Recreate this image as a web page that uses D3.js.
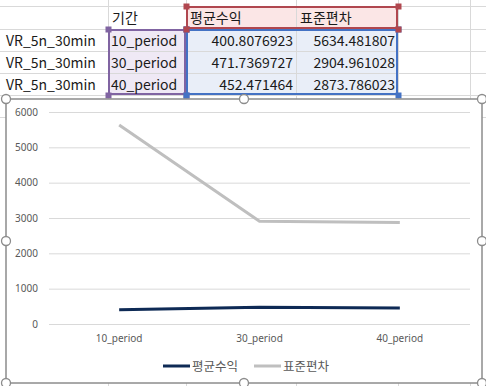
<!DOCTYPE html>
<html>
<head>
<meta charset="utf-8">
<script src="https://cdn.jsdelivr.net/npm/d3@7"></script>
<style>
  html, body { margin: 0; padding: 0; background: #fff; }
  svg { display: block; }
  .cell { font-family: "Noto Sans CJK KR", "Noto Sans", sans-serif; font-size: 14px; fill: #1a1a1a; }
  .tick text { font-family: "Noto Sans", "DejaVu Sans", sans-serif; font-size: 10px; fill: #595959; }
  .legend text { font-family: "Noto Sans CJK KR", sans-serif; font-size: 12.5px; fill: #595959; }
</style>
</head>
<body>
<div id="chart"></div>
<script>
var categories = ["10_period", "30_period", "40_period"];
var rowLabels = ["VR_5n_30min", "VR_5n_30min", "VR_5n_30min"];
var seriesNames = ["평균수익", "표준편차"];
var meanValues = [400.8076923, 471.7369727, 452.471464];
var stdValues = [5634.481807, 2904.961028, 2873.786023];
var yTicks = [0, 1000, 2000, 3000, 4000, 5000, 6000];

var colors = ["#0e2a55", "#bfbfbf"];

var W = 486, H = 386;
var svg = d3.select("#chart").append("svg").attr("width", W).attr("height", H);

// ---- spreadsheet behind the chart
var colX = [0, 108, 186, 296, 398, 470, 486];
var rowY = [6, 29, 51, 73, 95, 117];
var sheet = svg.append("g");

// range highlights
sheet.append("rect").attr("x", colX[1]).attr("y", rowY[1]).attr("width", colX[2] - colX[1]).attr("height", rowY[4] - rowY[1]).attr("fill", "#efe9f5");
sheet.append("rect").attr("x", colX[2]).attr("y", rowY[0]).attr("width", colX[4] - colX[2]).attr("height", rowY[1] - rowY[0]).attr("fill", "#fbe6e6");
sheet.append("rect").attr("x", colX[2]).attr("y", rowY[1]).attr("width", colX[4] - colX[2]).attr("height", rowY[4] - rowY[1]).attr("fill", "#e9eef8");

rowY.forEach(function (y) {
    sheet.append("line").attr("x1", 0).attr("x2", W).attr("y1", y + 0.5).attr("y2", y + 0.5).attr("stroke", "#d9d9d9");
});
colX.slice(1, 6).forEach(function (x) {
    sheet.append("line").attr("x1", x + 0.5).attr("x2", x + 0.5).attr("y1", 0).attr("y2", H).attr("stroke", "#d9d9d9");
});

function rangeBox(x0, y0, x1, y1, c) {
    sheet.append("rect").attr("x", x0 + 1).attr("y", y0 + 1).attr("width", x1 - x0 - 2).attr("height", y1 - y0 - 2)
        .attr("fill", "none").attr("stroke", c).attr("stroke-width", 2);
    [[x0, y0], [x1, y0], [x0, y1], [x1, y1]].forEach(function (p) {
        sheet.append("rect").attr("x", p[0] - 2.5).attr("y", p[1] - 2.5).attr("width", 6).attr("height", 6).attr("fill", c);
    });
}
rangeBox(colX[1], rowY[1], colX[2], rowY[4], "#8064a2");
rangeBox(colX[2], rowY[1], colX[4], rowY[4], "#4472c4");
rangeBox(colX[2], rowY[0], colX[4], rowY[1], "#b0474f");

sheet.append("text").attr("class", "cell").attr("x", colX[1] + 4).attr("y", rowY[1] - 6).text("기간");
seriesNames.forEach(function (s, i) {
    sheet.append("text").attr("class", "cell").attr("x", colX[2 + i] + 4).attr("y", rowY[1] - 6).text(s);
});
categories.forEach(function (c, i) {
    var y = rowY[i + 2] - 5;
    sheet.append("text").attr("class", "cell").attr("x", 6).attr("y", y).text(rowLabels[i]);
    sheet.append("text").attr("class", "cell").attr("x", colX[1] + 3).attr("y", y).text(c);
    sheet.append("text").attr("class", "cell").attr("x", colX[3] - 3).attr("y", y).attr("text-anchor", "end").text(meanValues[i]);
    sheet.append("text").attr("class", "cell").attr("x", colX[4] - 3).attr("y", y).attr("text-anchor", "end").text(stdValues[i]);
});

// ---- chart object
var box = { x0: 6, y0: 99, x1: 482, y1: 383 };
svg.append("rect").attr("x", box.x0).attr("y", box.y0).attr("width", box.x1 - box.x0).attr("height", box.y1 - box.y0)
    .attr("fill", "#fff").attr("stroke", "#8c8c8c").attr("stroke-width", 1.5);

var margin = { left: 49, right: 470, top: 112, bottom: 324 };
var x = d3.scaleBand().domain(categories).range([margin.left, margin.right]);
var y = d3.scaleLinear().domain([0, 6000]).range([margin.bottom, margin.top]);

var g = svg.append("g");
g.append("g").attr("transform", "translate(" + margin.left + ",0)")
    .call(d3.axisLeft(y).tickValues(yTicks).tickSize(-(margin.right - margin.left)).tickPadding(11).tickFormat(d3.format("d")))
    .call(function (a) {
        a.select(".domain").remove();
        a.selectAll(".tick line").attr("stroke", "#d9d9d9");
    });
g.append("g").attr("transform", "translate(0," + margin.bottom + ")")
    .call(d3.axisBottom(x).tickSize(0).tickPadding(11))
    .call(function (a) { a.select(".domain").remove(); });

var line = d3.line().x(function (d, i) { return x(categories[i]) + x.bandwidth() / 2; }).y(function (d) { return y(d); });
[meanValues, stdValues].forEach(function (vals, i) {
    g.append("path").datum(vals).attr("d", line).attr("fill", "none")
        .attr("stroke", colors[i]).attr("stroke-width", 3).attr("stroke-linejoin", "round");
});

// legend
var lg = svg.append("g").attr("class", "legend");
var lx = [163, 254];
seriesNames.forEach(function (s, i) {
    lg.append("line").attr("x1", lx[i]).attr("x2", lx[i] + 27).attr("y1", 366).attr("y2", 366)
        .attr("stroke", colors[i]).attr("stroke-width", 3);
    lg.append("text").attr("x", lx[i] + 29).attr("y", 370.5).text(s);
});

// selection handles
[[box.x0, box.y0], [(box.x0 + box.x1) / 2, box.y0], [box.x1, box.y0], [box.x0, (box.y0 + box.y1) / 2],
 [box.x1, (box.y0 + box.y1) / 2], [box.x0, box.y1], [(box.x0 + box.x1) / 2, box.y1], [box.x1, box.y1]].forEach(function (p) {
    svg.append("circle").attr("cx", p[0]).attr("cy", p[1]).attr("r", 4.5)
        .attr("fill", "#fff").attr("stroke", "#8c8c8c").attr("stroke-width", 1.3);
});
</script>
</body>
</html>
